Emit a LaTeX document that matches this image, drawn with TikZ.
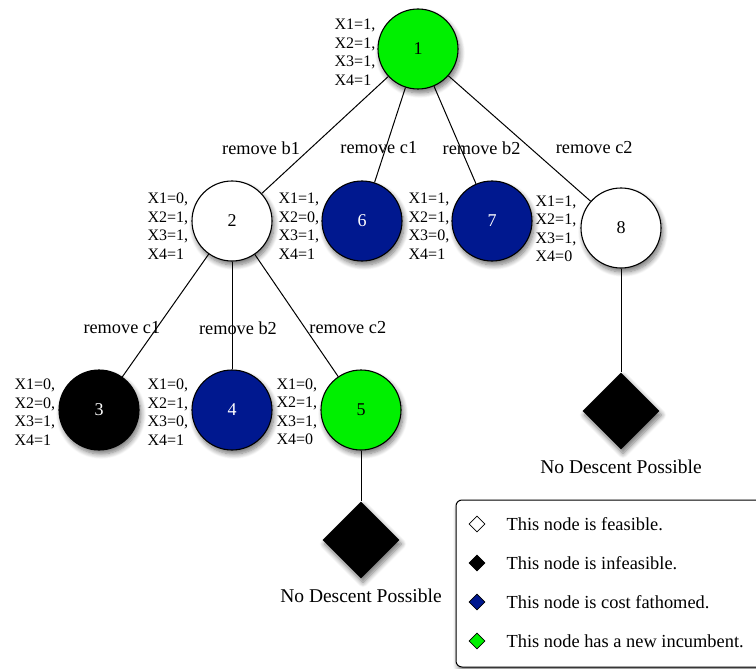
\documentclass[tikz,border=0pt]{standalone}
\usepackage{fontspec}
\setmainfont{Liberation Serif}
\definecolor{bbgreen}{HTML}{00F000}
\definecolor{bbblue}{HTML}{00188F}
\usetikzlibrary{positioning, shapes.geometric, shadows.blur}

\begin{document}
\begin{tikzpicture}[x=1pt, y=-1pt,
    sol/.style={circle, draw=black, line width=1.1pt, minimum size=80pt, inner sep=0pt,
                font=\fontsize{18}{20}\selectfont,
                blur shadow={shadow xshift=2pt, shadow yshift=-4pt, shadow blur steps=8,
                             shadow blur radius=5pt, shadow opacity=55}},
    feas/.style={sol, fill=white},
    infeas/.style={sol, fill=black, text=white},
    fath/.style={sol, fill=bbblue, text=white},
    incb/.style={sol, fill=bbgreen},
    stopbox/.style={diamond, aspect=1, fill=black, minimum size=77pt, inner sep=0pt,
                blur shadow={shadow xshift=2pt, shadow yshift=-4pt, shadow blur steps=8,
                             shadow blur radius=5pt, shadow opacity=55}},
    vars/.style={align=left, inner sep=0pt, font=\fontsize{16}{18.5}\selectfont},
    lbl/.style={font=\fontsize{18.3}{20}\selectfont, inner sep=2pt},
    edge/.style={draw=black, line width=1pt},
    legbox/.style={draw=black, line width=1pt, rounded corners=6pt, fill=white, minimum width=324pt,
                minimum height=167pt, inner sep=0pt,
                blur shadow={shadow xshift=2pt, shadow yshift=-4pt, shadow blur steps=8,
                             shadow blur radius=5pt, shadow opacity=50}},
    keybox/.style={diamond, aspect=1, draw=black, line width=0.8pt, minimum size=16pt, inner sep=0pt},
    keytxt/.style={font=\fontsize{18.4}{20}\selectfont, inner sep=2pt, anchor=west}]
    \useasboundingbox (0,0) rectangle (756,669);

    % tree
    \node[incb] (n1) at (418,49) {1};
    \node[feas] (n2) at (232,221) {2};
    \node[fath] (n6) at (362,221) {6};
    \node[fath] (n7) at (492,221) {7};
    \node[feas] (n8) at (621,228) {8};
    \node[infeas] (n3) at (99,410) {3};
    \node[fath] (n4) at (232,410) {4};
    \node[incb] (n5) at (361,410) {5};
    \node[stopbox] (d5) at (361,540) {};
    \node[stopbox] (d8) at (621,411) {};
    \node[lbl, font=\fontsize{19.5}{21}\selectfont, below=8pt of d5] (t5) {No Descent Possible};
    \node[lbl, font=\fontsize{19.5}{21}\selectfont, below=8pt of d8] (t8) {No Descent Possible};

    % values
    \node[vars, left=2pt of n1, yshift=-3pt] (v1) {X1=1,\\X2=1,\\X3=1,\\X4=1};
    \node[vars, left=3pt of n2, yshift=-5pt] (v2) {X1=0,\\X2=1,\\X3=1,\\X4=1};
    \node[vars, left=2pt of n6, yshift=-5pt] (v6) {X1=1,\\X2=0,\\X3=1,\\X4=1};
    \node[vars, left=2pt of n7, yshift=-5pt] (v7) {X1=1,\\X2=1,\\X3=0,\\X4=1};
    \node[vars, left=4pt of n8, yshift=-1pt] (v8) {X1=1,\\X2=1,\\X3=1,\\X4=0};
    \node[vars, left=3pt of n3, yshift=-2pt] (v3) {X1=0,\\X2=0,\\X3=1,\\X4=1};
    \node[vars, left=3pt of n4, yshift=-2pt] (v4) {X1=0,\\X2=1,\\X3=0,\\X4=1};
    \node[vars, left=3pt of n5, yshift=-2pt] (v5) {X1=0,\\X2=1,\\X3=1,\\X4=0};

    % branches
    \draw[edge] (n1) -- node[lbl, pos=.61, xshift=-50pt]{remove b1} (n2);
    \draw[edge] (n1) -- node[lbl, pos=.635, xshift=-7pt]{remove c1} (n6);
    \draw[edge] (n1) -- node[lbl, pos=.632, xshift=21pt]{remove b2} (n7);
    \draw[edge] (n1) -- node[lbl, pos=.575, xshift=64pt]{remove c2} (n8);
    \draw[edge] (n2) -- node[lbl, pos=.6, xshift=-35pt]{remove c1} (n3);
    \draw[edge] (n2) -- node[lbl, pos=.615, xshift=6pt]{remove b2} (n4);
    \draw[edge] (n2) -- node[lbl, pos=.6, xshift=43pt]{remove c2} (n5);
    \draw[edge] (n5) -- (d5);
    \draw[edge] (n8) -- (d8);

    % legend
    \node[legbox] (legend) at (618,583.5) {};
    \node[keybox, fill=white] (k1) at (477,524) {};
    \node[keybox, fill=black] (k2) at (477,563) {};
    \node[keybox, fill=bbblue] (k3) at (477,602) {};
    \node[keybox, fill=bbgreen] (k4) at (477,641) {};
    \node[keytxt, right=19pt of k1] (l1) {This node is feasible.};
    \node[keytxt, right=19pt of k2] (l2) {This node is infeasible.};
    \node[keytxt, right=19pt of k3] (l3) {This node is cost fathomed.};
    \node[keytxt, right=19pt of k4] (l4) {This node has a new incumbent.};
\end{tikzpicture}
\end{document}
